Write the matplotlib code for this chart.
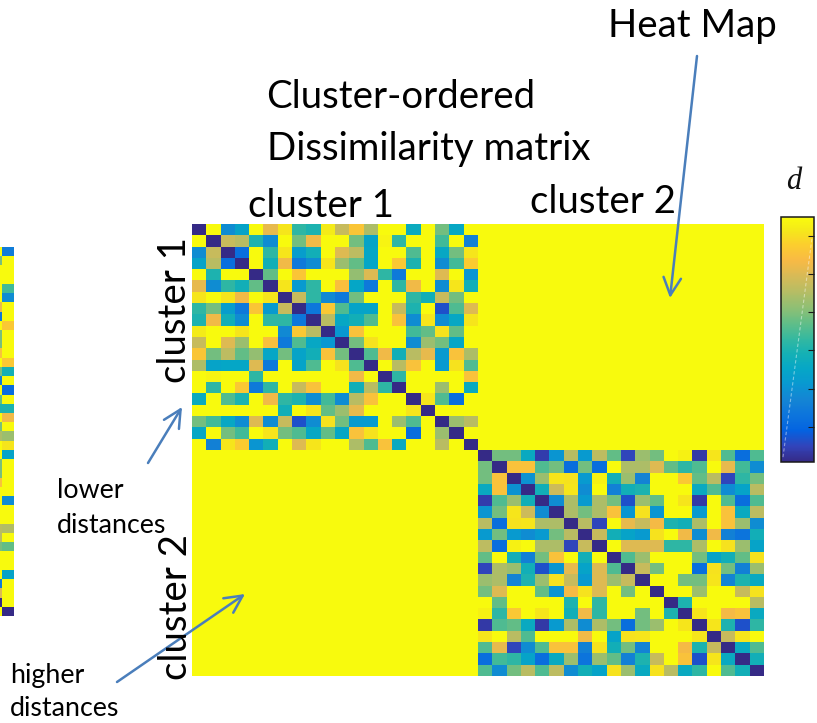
import numpy as np
import matplotlib
matplotlib.use("Agg")
import matplotlib.pyplot as plt
from matplotlib.colors import LinearSegmentedColormap, Normalize
from matplotlib.cm import ScalarMappable
from matplotlib.patches import FancyArrowPatch
from matplotlib.lines import Line2D

W, H = 817, 723
plt.rcParams['font.family'] = ['Lato', 'DejaVu Sans']

# ---- dissimilarity values (upper triangles, row i holds d(i, j) for j > i) ----
cluster1_upper = [
    [1.0, 0.28, 0.37, 1.0, 0.79, 0.94, 0.49, 0.46, 0.95, 0.73, 0.86, 0.68, 1.0, 1.0, 0.41, 1.0, 0.59, 0.39, 1.0],
    [0.73, 0.70, 0.46, 0.28, 1.0, 0.59, 0.81, 1.0, 1.0, 0.59, 0.37, 0.98, 0.49, 1.0, 1.0, 0.52, 1.0, 0.24],
    [0.17, 1.0, 0.49, 0.94, 0.34, 0.43, 1.0, 0.77, 0.71, 0.38, 1.0, 1.0, 0.54, 1.0, 0.39, 0.59, 0.94],
    [1.0, 0.43, 0.81, 0.21, 0.28, 0.94, 0.65, 0.57, 0.38, 1.0, 0.87, 0.46, 1.0, 0.28, 0.52, 0.88],
    [0.57, 1.0, 0.86, 1.0, 1.0, 1.0, 0.64, 0.77, 0.49, 0.21, 1.0, 1.0, 0.77, 1.0, 0.31],
    [0.94, 0.33, 0.49, 1.0, 0.84, 0.38, 0.21, 1.0, 0.49, 0.81, 1.0, 0.28, 0.94, 0.43],
    [0.73, 0.49, 0.27, 0.21, 0.59, 1.0, 1.0, 1.0, 0.49, 0.43, 0.73, 0.59, 1.0],
    [0.20, 0.87, 0.54, 0.37, 0.37, 1.0, 0.73, 0.46, 1.0, 0.09, 0.54, 0.77],
    [0.70, 0.39, 0.43, 0.54, 1.0, 0.85, 0.28, 0.94, 0.28, 0.39, 0.94],
    [0.32, 0.85, 1.0, 1.0, 1.0, 0.52, 0.57, 0.93, 0.57, 1.0],
    [0.59, 0.93, 1.0, 1.0, 0.28, 0.65, 0.59, 0.38, 1.0],
    [0.54, 0.81, 0.43, 0.70, 0.79, 0.33, 0.85, 0.68],
    [1.0, 0.70, 0.85, 1.0, 0.33, 0.93, 0.54],
    [0.49, 1.0, 1.0, 1.0, 1.0, 0.85],
    [1.0, 1.0, 0.65, 1.0, 0.40],
    [0.94, 0.54, 0.17, 1.0],
    [1.0, 1.0, 1.0],
    [0.65, 0.70],
    [1.0],
]

cluster2_upper = [
    [0.59, 0.59, 0.40, 0.05, 0.31, 0.70, 0.33, 0.71, 0.57, 0.07, 0.65, 0.59, 1.0, 0.97, 0.04, 0.94, 0.54, 0.17, 0.54],
    [0.85, 0.85, 0.54, 0.59, 0.17, 0.59, 0.17, 1.0, 0.68, 0.68, 0.77, 0.57, 0.49, 0.54, 1.0, 0.79, 0.52, 0.28],
    [0.30, 0.65, 0.94, 0.93, 0.33, 0.97, 0.43, 0.65, 0.25, 1.0, 1.0, 0.87, 0.57, 0.70, 0.07, 0.49, 0.59],
    [0.43, 0.74, 0.94, 0.28, 1.0, 0.24, 0.43, 0.46, 1.0, 1.0, 1.0, 0.40, 0.54, 0.28, 0.37, 0.70],
    [0.28, 0.68, 0.33, 0.68, 0.59, 0.09, 0.65, 0.57, 1.0, 0.94, 0.04, 1.0, 0.54, 0.17, 0.54],
    [0.68, 0.59, 0.68, 0.85, 0.31, 0.93, 0.31, 1.0, 1.0, 0.33, 1.0, 0.85, 0.40, 0.71],
    [0.70, 0.07, 1.0, 0.79, 0.73, 0.82, 0.46, 0.43, 0.68, 1.0, 0.85, 0.65, 0.28],
    [0.73, 0.43, 0.37, 0.33, 0.93, 1.0, 0.81, 0.28, 0.81, 0.24, 0.19, 0.43],
    [1.0, 0.77, 0.77, 0.77, 0.49, 0.49, 0.68, 1.0, 0.93, 0.65, 0.37],
    [0.54, 0.65, 1.0, 1.0, 1.0, 0.59, 0.37, 0.43, 0.57, 0.93],
    [0.73, 0.59, 1.0, 1.0, 0.17, 0.93, 0.59, 0.24, 0.65],
    [1.0, 1.0, 0.59, 0.59, 0.94, 0.25, 0.46, 0.40],
    [1.0, 1.0, 0.65, 1.0, 1.0, 0.73, 0.93],
    [0.46, 1.0, 1.0, 1.0, 1.0, 0.70],
    [0.94, 1.0, 0.82, 0.85, 0.40],
    [0.94, 0.46, 0.09, 0.49],
    [0.73, 0.94, 1.0],
    [0.40, 0.54],
    [0.43],
]

between_clusters = 1.0

# last two columns of the unordered matrix shown at the far left
unordered_col38 = [1, 0.6, 1, 1, 1, 1, 0.79, 0.2, 1, 0.6,
                   0.6, 0.85, 1, 0.6, 0.22, 1, 0.57, 0.46, 1, 0.6,
                   0.68, 1, 1, 0.6, 0.6, 0.85, 1, 1, 1, 1,
                   0.7, 0.7, 0.6, 1, 1, 1, 0.22, 0.77, 0, 1]
unordered_col39 = [0.22, 1, 1, 1, 0.52, 0.28, 1, 1, 0.87, 1,
                   1, 1, 0.87, 0.44, 1, 0.17, 1, 0.46, 0.81, 1,
                   0.65, 0.94, 0.37, 1, 1, 1, 1, 0.28, 1, 1,
                   0.69, 1, 0.57, 1, 1, 0.37, 1, 1, 1, 0]

cbar_ticks = [0.143, 0.298, 0.457, 0.612, 0.767, 0.922]

# ---- parula-like colormap ----
parula_anchors = [
    (0.2081, 0.1663, 0.5292), (0.1959, 0.2645, 0.7279), (0.0117, 0.3875, 0.8820),
    (0.0498, 0.4586, 0.8641), (0.0793, 0.5200, 0.8312), (0.0343, 0.5966, 0.8199),
    (0.0228, 0.6535, 0.7768), (0.0843, 0.6928, 0.7062), (0.2178, 0.7250, 0.6193),
    (0.3953, 0.7459, 0.5244), (0.5709, 0.7485, 0.4494), (0.7184, 0.7411, 0.3905),
    (0.8507, 0.7299, 0.3360), (0.9739, 0.7314, 0.2666), (0.9880, 0.8066, 0.1794),
    (0.9598, 0.9218, 0.0948), (0.9763, 0.9831, 0.0538),
]
anchor_pos = [0, 4, 8, 12, 16, 20, 24, 28, 32, 36, 40, 44, 48, 52, 56, 60, 63]
parula = LinearSegmentedColormap.from_list(
    "parula", [(p / 63.0, c) for p, c in zip(anchor_pos, parula_anchors)], N=256)
norm = Normalize(vmin=0.0, vmax=1.0)


def symmetric(upper):
    n = len(upper[0]) + 1
    m = np.zeros((n, n))
    for i, row in enumerate(upper):
        m[i, i + 1:] = row
    return m + m.T


c1 = symmetric(cluster1_upper)
c2 = symmetric(cluster2_upper)
n1, n2 = len(c1), len(c2)
D = np.full((n1 + n2, n1 + n2), between_clusters)
D[:n1, :n1] = c1
D[n1:, n1:] = c2

fig = plt.figure(figsize=(W / 100, H / 100), dpi=100)


def box(x0, y0, x1, y1):
    return [x0 / W, 1 - y1 / H, (x1 - x0) / W, (y1 - y0) / H]


def fx(x):
    return x / W


def fy(y):
    return 1 - y / H


# cluster-ordered dissimilarity matrix
ax = fig.add_axes(box(192, 224, 764, 676))
ax.imshow(D, cmap=parula, norm=norm, aspect='auto', interpolation='nearest')
ax.axis('off')

# edge of the unordered matrix
axs = fig.add_axes(box(-10, 247, 14, 616))
axs.imshow(np.column_stack([unordered_col38, unordered_col39]), cmap=parula, norm=norm,
           aspect='auto', interpolation='nearest')
axs.axis('off')

# colorbar
cax = fig.add_axes(box(781, 217, 814, 462))
cb = fig.colorbar(ScalarMappable(norm=norm, cmap=parula), cax=cax, ticks=cbar_ticks)
cb.outline.set_linewidth(1.1)
cb.outline.set_edgecolor('#1a1a1a')
cax.tick_params(direction='in', length=4, width=0.8, right=True, left=False,
                labelright=False, colors='#1a1a1a')
cax.add_line(Line2D([0.06, 0.94], [0.02, 0.914], transform=cax.transAxes,
                    color='white', lw=0.8, alpha=0.45, ls=(0, (3, 2))))
fig.text(fx(794), fy(189), "d", ha='center', va='baseline', fontsize=22,
         family=['Liberation Serif', 'DejaVu Serif'], style='italic', color='#111111')

# ---- annotations ----
big = []
small = []


def label(x, y, s, group, target, **kw):
    t = fig.text(fx(x), fy(y), s, ha='left', va='baseline', color='black', **kw)
    group.append((t, target))
    return t


label(608, 37, "Heat Map", big, 167, fontsize=28)
label(266, 108, "Cluster-ordered", big, 266, fontsize=28)
label(267, 160, "Dissimilarity matrix", big, 328, fontsize=28)
label(248, 217, "cluster 1", big, 145, fontsize=28)
label(530, 213, "cluster 2", big, 145, fontsize=28)
label(186, 383, "cluster 1", big, 145, fontsize=28, rotation=90, rotation_mode='anchor')
label(187, 680, "cluster 2", big, 145, fontsize=28, rotation=90, rotation_mode='anchor')
label(57, 498, "lower", small, 66, fontsize=20)
label(57, 533, "distances", small, 110, fontsize=20)
label(10, 683, "higher", small, 75, fontsize=20)
label(10, 716, "distances", small, 110, fontsize=20)

# scale each group of labels to a common size matching its measured text widths
fig.canvas.draw()
renderer = fig.canvas.get_renderer()
for group in (big, small):
    have = 0.0
    want = 0.0
    for t, target in group:
        bb = t.get_window_extent(renderer)
        have += max(bb.width, bb.height)
        want += target
    scale = want / have
    for t, _ in group:
        t.set_fontsize(t.get_fontsize() * scale)

arrow_color = '#4A7EBB'
arrows = [((697, 56), (670, 298)), ((148, 463), (182, 407)), ((117, 682), (245, 594))]
for (x0, y0), (x1, y1) in arrows:
    fig.add_artist(FancyArrowPatch((fx(x0), fy(y0)), (fx(x1), fy(y1)),
                                   transform=fig.transFigure,
                                   arrowstyle='->,head_length=0.7,head_width=0.35',
                                   mutation_scale=18, color=arrow_color, lw=1.8,
                                   shrinkA=0, shrinkB=0))

fig.savefig('out.png', dpi=100)
